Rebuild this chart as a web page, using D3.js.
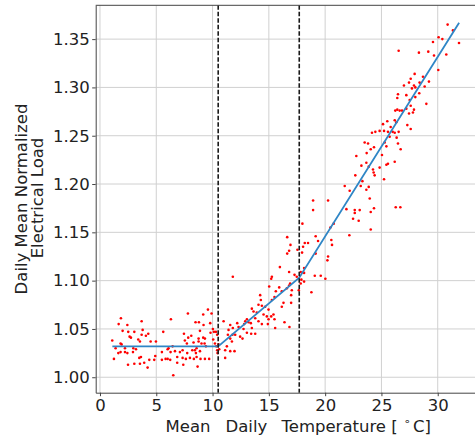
<!DOCTYPE html>
<html>
<head>
<meta charset="utf-8">
<script src="https://cdn.jsdelivr.net/npm/d3@7"></script>
<style>
body { margin: 0; background: #fff; }
text { font-family: "DejaVu Sans", sans-serif; fill: #222; }
</style>
</head>
<body>
<svg id="chart"></svg>
<script>

const obsCold = [
  [1.86,1.061],[1.66,1.055],[3.70,1.058],[2.43,1.054],[7.81,1.066],[6.30,1.060],[9.59,1.070],[9.17,1.065],
  [9.91,1.066],[8.49,1.057],[8.79,1.057],[9.20,1.054],[9.79,1.056],[10.03,1.050],[10.12,1.047],[2.01,1.048],
  [2.51,1.047],[3.05,1.047],[3.79,1.049],[4.29,1.045],[3.70,1.044],[4.08,1.043],[2.63,1.042],[2.75,1.041],
  [1.09,1.038],[1.83,1.035],[1.92,1.034],[3.40,1.039],[3.55,1.037],[4.50,1.037],[5.62,1.047],[7.46,1.045],
  [7.84,1.041],[8.11,1.043],[7.54,1.038],[7.72,1.035],[8.31,1.036],[8.76,1.040],[8.88,1.048],[9.17,1.041],
  [9.32,1.040],[9.82,1.046],[10.30,1.047],[10.41,1.044],[8.76,1.037],[9.02,1.035],[9.29,1.035],[9.41,1.032],
  [10.06,1.039],[10.21,1.035],[10.33,1.032],[10.41,1.028],[10.44,1.025],[4.97,1.037],[6.01,1.029],[6.45,1.032],
  [6.09,1.030],[6.27,1.026],[6.66,1.027],[7.10,1.026],[7.34,1.028],[7.75,1.025],[8.20,1.028],[8.43,1.028],
  [8.52,1.025],[8.88,1.027],[8.58,1.030],[1.63,1.025],[1.83,1.026],[2.22,1.026],[2.43,1.025],[2.93,1.026],
  [3.20,1.029],[1.24,1.019],[2.49,1.013],[3.05,1.014],[3.49,1.020],[3.55,1.014],[3.93,1.015],[4.38,1.018],
  [4.82,1.018],[4.91,1.022],[5.50,1.018],[5.83,1.019],[6.01,1.019],[6.24,1.018],[6.86,1.021],[7.34,1.020],
  [7.63,1.019],[7.99,1.020],[8.34,1.019],[8.58,1.021],[8.93,1.019],[9.32,1.019],[9.70,1.019],[3.64,1.021],
  [4.23,1.010],[6.51,1.002],[8.67,1.011],[7.40,1.013],[6.86,1.015],[5.50,1.026],[2.22,1.030],[2.96,1.030],
  [1.39,1.030]
];
const obsMild = [
  [16.63,1.145],[16.92,1.137],[16.80,1.131],[16.63,1.128],[15.98,1.114],[15.27,1.104],[15.21,1.102],[11.80,1.104],
  [16.80,1.109],[17.28,1.106],[16.89,1.097],[16.80,1.095],[16.60,1.092],[15.92,1.093],[16.15,1.089],[15.03,1.094],
  [17.04,1.090],[16.98,1.085],[14.23,1.085],[15.62,1.089],[15.50,1.083],[15.27,1.080],[16.30,1.077],[16.15,1.073],
  [16.98,1.077],[14.29,1.080],[14.08,1.075],[14.38,1.074],[13.49,1.071],[13.64,1.068],[13.93,1.067],[14.67,1.073],
  [14.97,1.070],[14.53,1.065],[14.82,1.063],[15.21,1.063],[15.41,1.065],[14.97,1.060],[15.50,1.060],[13.79,1.061],
  [14.08,1.058],[13.05,1.060],[12.90,1.058],[13.19,1.057],[12.81,1.055],[13.40,1.056],[12.19,1.056],[12.31,1.052],
  [11.57,1.054],[11.80,1.051],[11.42,1.049],[10.98,1.058],[12.75,1.050],[13.49,1.051],[14.38,1.055],[14.91,1.055],
  [16.39,1.057],[16.83,1.052],[15.56,1.051],[11.36,1.044],[11.77,1.044],[12.01,1.044],[12.45,1.042],[13.05,1.046],
  [13.43,1.045],[13.79,1.045],[12.66,1.040],[11.57,1.040],[11.72,1.037],[10.53,1.034],[10.59,1.029],[11.12,1.028],
  [11.27,1.032],[11.57,1.027],[11.95,1.027],[11.12,1.020],[17.98,1.159]
];
const obsWarm = [
  [25.14,1.262],[25.52,1.265],[24.16,1.253],[24.46,1.254],[24.84,1.255],[25.23,1.255],[25.58,1.254],[23.51,1.243],
  [23.81,1.242],[24.34,1.238],[24.05,1.236],[23.69,1.232],[25.05,1.230],[25.44,1.220],[25.58,1.221],[24.84,1.217],
  [24.25,1.215],[24.31,1.212],[24.40,1.209],[23.87,1.218],[23.22,1.219],[23.66,1.222],[22.77,1.229],[22.68,1.209],
  [23.31,1.203],[25.23,1.205],[21.74,1.198],[22.18,1.193],[23.16,1.198],[23.66,1.194],[23.87,1.197],[23.96,1.185],
  [24.34,1.175],[24.05,1.171],[21.89,1.174],[22.63,1.173],[22.63,1.170],[23.07,1.173],[22.48,1.164],[22.98,1.162],
  [24.05,1.153],[22.15,1.147],[18.93,1.183],[20.26,1.183],[18.93,1.173],[20.47,1.155],[20.76,1.159],[19.16,1.146],
  [19.37,1.141],[20.55,1.142],[20.61,1.137],[18.48,1.139],[18.19,1.139],[18.04,1.135],[17.95,1.129],[17.54,1.132],
  [19.16,1.128],[20.26,1.125],[20.20,1.121],[18.13,1.113],[17.83,1.109],[18.13,1.108],[17.48,1.104],[17.89,1.101],
  [18.13,1.099],[19.08,1.105],[19.61,1.105],[20.02,1.102],[18.78,1.088],[17.66,1.090],[17.83,1.097],[26.27,1.176],
  [26.68,1.176]
];
const obsHot = [
  [30.88,1.365],[31.35,1.359],[30.08,1.352],[30.41,1.350],[29.58,1.347],[31.89,1.346],[26.53,1.338],[28.33,1.336],
  [29.16,1.337],[29.67,1.333],[30.76,1.334],[30.05,1.318],[27.95,1.314],[28.69,1.311],[27.60,1.309],[27.45,1.305],
  [28.39,1.305],[29.22,1.306],[27.00,1.302],[27.89,1.302],[28.01,1.300],[28.84,1.301],[27.71,1.299],[26.47,1.293],
  [27.21,1.292],[28.36,1.294],[26.41,1.289],[28.01,1.290],[27.51,1.287],[28.99,1.283],[26.23,1.276],[26.41,1.277],
  [26.62,1.276],[26.83,1.276],[27.21,1.278],[27.60,1.281],[27.89,1.277],[27.80,1.274],[27.45,1.273],[26.18,1.266],
  [26.32,1.264],[25.82,1.259],[26.00,1.254],[26.53,1.254],[26.18,1.253],[25.73,1.249],[27.30,1.261],[27.60,1.257],
  [26.35,1.248],[25.29,1.243],[26.47,1.242],[25.44,1.239],[26.71,1.236],[26.18,1.223]
];

// piecewise linear fit and its break points
const fitTemps = [1.1, 10.5, 17.7, 31.9];
const fitLoads = [1.032, 1.032, 1.103, 1.367];
const breakTemps = [10.5, 17.7];

const xTicks = [0, 5, 10, 15, 20, 25, 30];
const yTicks = [1.00, 1.05, 1.10, 1.15, 1.20, 1.25, 1.30, 1.35];

const width = 475;
const height = 441;
const plot = { left: 95.7, right: 476, top: 5.3, bottom: 392.7 };

const svg = d3.select("#chart")
    .attr("width", width)
    .attr("height", height);

const x = d3.scaleLinear().domain([-0.38, 33.4]).range([plot.left, plot.right]);
const y = d3.scaleLinear().domain([0.984, 1.385]).range([plot.bottom, plot.top]);

// grid
svg.append("g").selectAll("line")
    .data(xTicks)
    .enter().append("line")
    .attr("x1", d => x(d)).attr("x2", d => x(d))
    .attr("y1", plot.top).attr("y2", plot.bottom)
    .attr("stroke", "#d0d0d0").attr("stroke-width", 1);

svg.append("g").selectAll("line")
    .data(yTicks)
    .enter().append("line")
    .attr("x1", plot.left).attr("x2", plot.right)
    .attr("y1", d => y(d)).attr("y2", d => y(d))
    .attr("stroke", "#d0d0d0").attr("stroke-width", 1);

// scatter
const allObs = obsCold.concat(obsMild, obsWarm, obsHot);
svg.append("g").selectAll("circle")
    .data(allObs)
    .enter().append("circle")
    .attr("cx", d => x(d[0]))
    .attr("cy", d => y(d[1]))
    .attr("r", 1.3)
    .attr("fill", "#ff0000");

// fitted line
const line = d3.line()
    .x((d, i) => x(fitTemps[i]))
    .y(d => y(d));

svg.append("path")
    .datum(fitLoads)
    .attr("d", line)
    .attr("fill", "none")
    .attr("stroke", "#2f86c6")
    .attr("stroke-width", 1.8);

// break points
svg.append("g").selectAll("line")
    .data(breakTemps)
    .enter().append("line")
    .attr("x1", d => x(d)).attr("x2", d => x(d))
    .attr("y1", plot.top).attr("y2", plot.bottom)
    .attr("stroke", "#1a1a1a")
    .attr("stroke-width", 1.6)
    .attr("stroke-dasharray", "4.5,2");

// axes
const xAxis = d3.axisBottom(x).tickValues(xTicks).tickSize(3.5).tickSizeOuter(0).tickPadding(3.1);
const gx = svg.append("g")
    .attr("transform", "translate(0," + plot.bottom + ")")
    .call(xAxis);

const yAxis = d3.axisLeft(y).tickValues(yTicks).tickFormat(d3.format(".2f"))
    .tickSize(3.5).tickSizeOuter(0).tickPadding(2.5);
const gy = svg.append("g")
    .attr("transform", "translate(" + plot.left + ",0)")
    .call(yAxis);

[gx, gy].forEach(g => {
    g.select(".domain").attr("stroke", "#444").attr("stroke-width", 1);
    g.selectAll(".tick line").attr("stroke", "#444");
    g.selectAll(".tick text")
        .style("font-family", "DejaVu Sans, sans-serif")
        .style("font-size", "16.5px")
        .attr("fill", "#222");
});

// top spine
svg.append("line")
    .attr("x1", plot.left).attr("x2", plot.right)
    .attr("y1", plot.top).attr("y2", plot.top)
    .attr("stroke", "#444").attr("stroke-width", 1);

// x label
const xl = svg.append("text")
    .attr("y", 431.5)
    .style("font-size", "16.5px");
xl.append("tspan").attr("x", 165.5).text("Mean");
xl.append("tspan").attr("x", 225.5).text("Daily");
xl.append("tspan").attr("x", 281.5).text("Temperature [");
xl.append("tspan").attr("x", 403.5).attr("dy", -7).style("font-size", "11px").text("\u2218");
xl.append("tspan").attr("x", 413).attr("dy", 7).text("C]");

// y label
const yl = svg.append("text")
    .attr("transform", "rotate(-90)")
    .style("text-anchor", "middle")
    .style("font-size", "16.5px");
yl.append("tspan").attr("x", -199).attr("y", 27).text("Daily Mean Normalized");
yl.append("tspan").attr("x", -198).attr("y", 43).text("Electrical Load");

</script>
</body>
</html>
